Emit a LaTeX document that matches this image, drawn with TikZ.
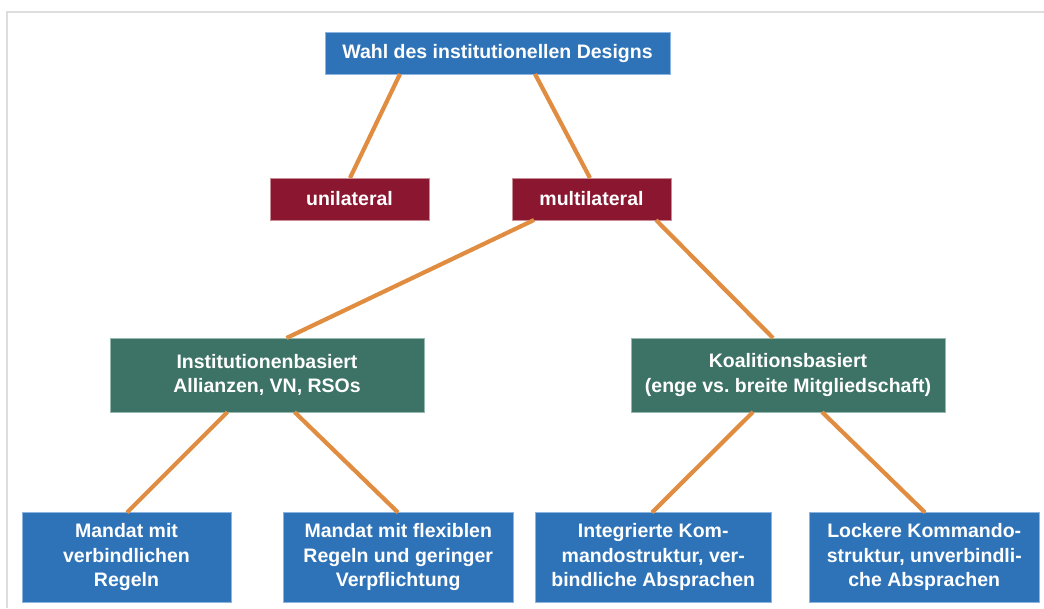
\documentclass[tikz,border=0pt]{standalone}
\usepackage{fontspec}
\setmainfont{Liberation Sans}
\frenchspacing
\definecolor{boxblue}{RGB}{46,115,184}
\definecolor{boxblueedge}{RGB}{140,180,225}
\definecolor{boxred}{RGB}{138,22,48}
\definecolor{boxrededge}{RGB}{200,140,150}
\definecolor{boxgreen}{RGB}{61,115,102}
\definecolor{boxgreenedge}{RGB}{150,185,175}
\definecolor{linkorange}{RGB}{224,140,65}
\definecolor{framegray}{RGB}{221,221,221}
\tikzset{
  base/.style={rectangle, inner sep=0pt, outer sep=0pt, line width=0.7pt, text=white,
    font=\bfseries\fontsize{19.5}{24.5}\selectfont, align=center},
  bluebox/.style={base, fill=boxblue, draw=boxblueedge},
  redbox/.style={base, fill=boxred, draw=boxrededge},
  greenbox/.style={base, fill=boxgreen, draw=boxgreenedge},
  link/.style={draw=linkorange, line width=4.2pt}
}
\begin{document}
\begin{tikzpicture}[x=1pt,y=-1pt]
\useasboundingbox (0,0) rectangle (1044,608);
\draw[framegray, line width=1.5pt] (7,608) -- (7,12) -- (1044,12);

\node[bluebox, minimum width=345pt, minimum height=42pt] (top) at (497.5,53) {\frenchspacing Wahl des institutionellen Designs};
\node[redbox, minimum width=159pt, minimum height=42pt] (uni) at (349.5,199) {unilateral};
\node[redbox, minimum width=159pt, minimum height=42pt] (multi) at (591.5,199) {multilateral};
\node[greenbox, minimum width=314pt, minimum height=74pt] (inst) at (267,375) {Institutionenbasiert\\Allianzen, VN, RSOs};
\node[greenbox, minimum width=314pt, minimum height=74pt] (koal) at (788,375) {\frenchspacing Koalitionsbasiert\\(enge vs.\ breite Mitgliedschaft)};
\node[bluebox, minimum width=209pt, minimum height=89.5pt] (m1) at (126.5,557.25) {Mandat mit\\verbindlichen\\Regeln};
\node[bluebox, minimum width=229.5pt, minimum height=89.5pt] (m2) at (398.25,557.25) {Mandat mit flexiblen\\Regeln und geringer\\Verpflichtung};
\node[bluebox, minimum width=236.5pt, minimum height=89.5pt] (m3) at (653.25,557.25) {Integrierte Kom-\\mandostruktur, ver-\\bindliche Absprachen};
\node[bluebox, minimum width=229.5pt, minimum height=89.5pt] (m4) at (924.25,557.25) {Lockere Kommando-\\struktur, unverbindli-\\che Absprachen};

\draw[link] ([xshift=75pt]top.south west) -- ([xshift=80pt]uni.north west);
\draw[link] ([xshift=210pt]top.south west) -- ([xshift=78pt]multi.north west);
\draw[link] ([xshift=22pt]multi.south west) -- ([xshift=176.5pt]inst.north west);
\draw[link] ([xshift=144pt]multi.south west) -- ([xshift=142pt]koal.north west);
\draw[link] ([xshift=117.5pt]inst.south west) -- ([xshift=105pt]m1.north west);
\draw[link] ([xshift=184.5pt]inst.south west) -- ([xshift=114.5pt]m2.north west);
\draw[link] ([xshift=122pt]koal.south west) -- ([xshift=117pt]m3.north west);
\draw[link] ([xshift=191pt]koal.south west) -- ([xshift=115.5pt]m4.north west);
\end{tikzpicture}
\end{document}
